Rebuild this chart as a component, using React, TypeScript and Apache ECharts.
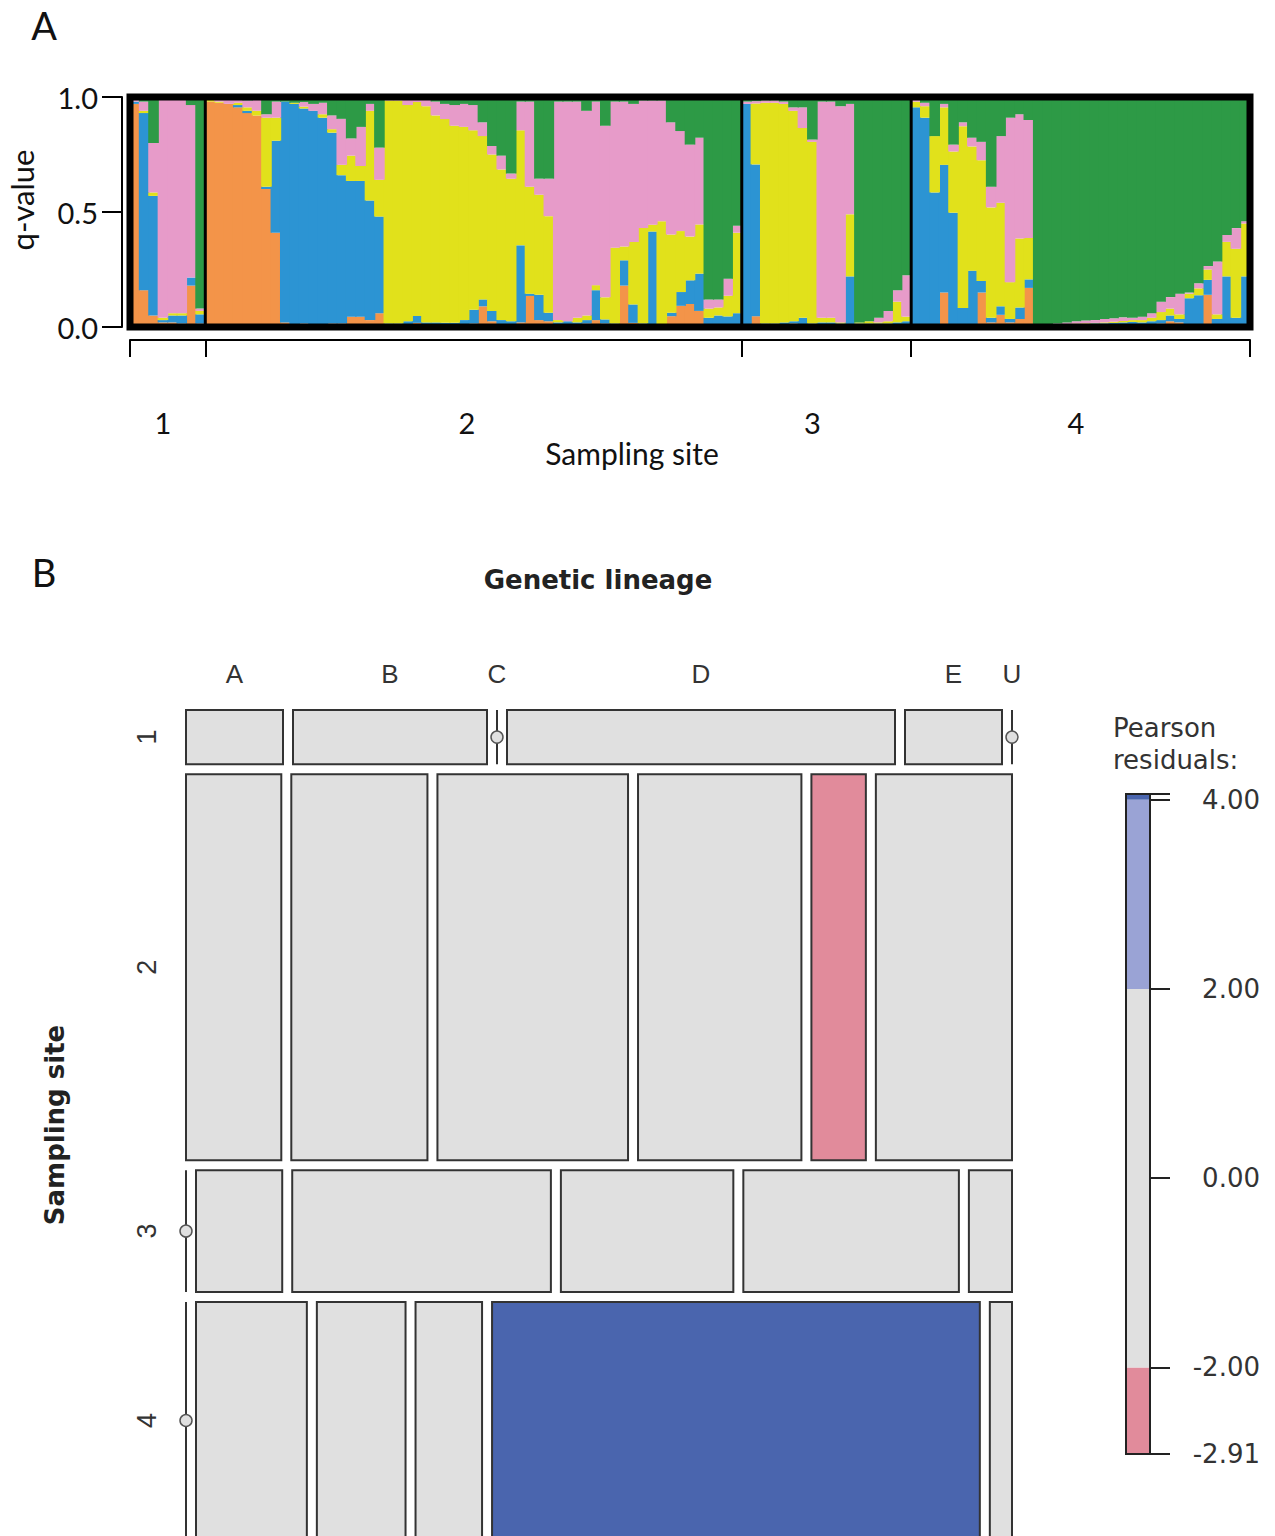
import React, { useEffect, useRef } from "react";
import * as echarts from "echarts";

// ---------- Panel A: ancestry proportions (q-values) ----------
const siteNames = ["1", "2", "3", "4"];
const siteSizes = [8, 57, 18, 36];
const siteLabelPos = [3.5, 35.8, 72.5, 100.5];
const qTickValues = [0, 0.5, 1];
const clusterNames = ["orange", "blue", "yellow", "pink", "green"];
const clusterColors = ["#F39449", "#2C94D3", "#E1E11B", "#E79BC9", "#2D9A46"];

const orangeQ = [
  0.97, 0.16, 0.05, 0.02, 0.02, 0.015, 0.18, 0.015,
  0.98, 0.975, 0.97, 0.955, 0.93, 0.92, 0.6, 0.41, 0.02, 0.01, 0.015, 0.01, 0.01, 0.015, 0.015, 0.045, 0.045, 0.03, 0.06,
  0.005, 0.005, 0.01, 0.018, 0.01, 0.01, 0.008, 0.008, 0.01, 0.015, 0.09, 0.025, 0.01, 0.01, 0.02, 0.135, 0.03, 0.025,
  0.01, 0.01, 0.01, 0.015, 0.03, 0.015, 0.01, 0.18, 0.018, 0.01, 0, 0, 0.047, 0.092, 0.1, 0.07, 0.01, 0.01, 0, 0.01,
  0.01, 0.047, 0.005, 0.005, 0.01, 0.015, 0.01, 0.005, 0.01, 0.01, 0.01, 0.01, 0.01, 0.01, 0.005, 0.005, 0.005, 0.005,
  0.005, 0.01, 0, 0.15, 0.002, 0.005, 0.005, 0.15, 0.02, 0.053, 0.02, 0.035, 0.17, 0.002, 0.002, 0.003, 0.003, 0.005,
  0.005, 0.006, 0.006, 0.008, 0.008, 0.01, 0.01, 0.01, 0.015, 0.025, 0.02, 0.005, 0.003, 0.14, 0, 0.005, 0.01, 0,
];
const blueQ = [
  0.01, 0.77, 0.52, 0.01, 0.03, 0.035, 0.035, 0.04,
  0, 0, 0, 0.01, 0.01, 0, 0.01, 0.4, 0.96, 0.96, 0.935, 0.93, 0.9, 0.83, 0.645, 0.59, 0.59, 0.52, 0.42,
  0.01, 0.01, 0.015, 0.03, 0.01, 0.01, 0.01, 0.01, 0.02, 0.06, 0.03, 0.045, 0.02, 0.015, 0.335, 0.01, 0.11, 0.037,
  0.01, 0.015, 0.01, 0.015, 0.13, 0.018, 0.005, 0.11, 0.08, 0.005, 0.415, 0.01, 0.015, 0.06, 0.103, 0.162, 0.03, 0.04, 0.046, 0.05,
  0.96, 0.66, 0.01, 0.01, 0.01, 0.01, 0.03, 0.01, 0.01, 0.01, 0.005, 0.21, 0.005, 0.005, 0.01, 0.01, 0.015, 0.02,
  0.95, 0.9, 0.585, 0.555, 0.495, 0.078, 0.24, 0.05, 0.02, 0.037, 0.015, 0.05, 0.037, 0.003, 0.004, 0.005, 0.007, 0.008,
  0.008, 0.01, 0.01, 0.01, 0.012, 0.012, 0.01, 0.015, 0.015, 0.025, 0.015, 0.12, 0.135, 0.065, 0.035, 0.215, 0.03, 0.22,
];
const yellowQ = [
  0, 0.01, 0.015, 0.01, 0.01, 0.01, 0, 0.015,
  0.01, 0.005, 0, 0.01, 0.015, 0.02, 0.3, 0.1, 0, 0.005, 0.008, 0, 0.015, 0.015, 0.045, 0.11, 0.065, 0.39, 0.16,
  0.97, 0.97, 0.94, 0.93, 0.94, 0.9, 0.886, 0.857, 0.84, 0.78, 0.71, 0.68, 0.655, 0.62, 0.5, 0.465, 0.435, 0.42,
  0.01, 0, 0.02, 0.02, 0.022, 0.096, 0.33, 0.06, 0.272, 0.415, 0.03, 0.45, 0.34, 0.265, 0.19, 0.214, 0.04, 0.035, 0.09, 0.35,
  0, 0.265, 0.96, 0.96, 0.95, 0.915, 0.825, 0.79, 0.02, 0.02, 0.005, 0.27, 0.005, 0.01, 0.005, 0.01, 0.09, 0.02,
  0.025, 0.05, 0.245, 0.25, 0.266, 0.79, 0.54, 0.525, 0.48, 0.45, 0.16, 0.3, 0.18, 0.003, 0.003, 0.002, 0.002, 0.002,
  0.003, 0.002, 0.004, 0.005, 0.006, 0.008, 0.01, 0.015, 0.035, 0.03, 0.02, 0.02, 0.03, 0.045, 0.02, 0.15, 0.3, 0.23,
];
const pinkQ = [
  0.015, 0.04, 0.215, 0.95, 0.93, 0.93, 0.75, 0.01,
  0.01, 0.01, 0.02, 0.015, 0.03, 0.05, 0.015, 0.07, 0, 0, 0.02, 0.03, 0.05, 0.06, 0.2, 0.075, 0.17, 0.03, 0.14,
  0.015, 0.01, 0.03, 0.015, 0.03, 0.06, 0.066, 0.09, 0.1, 0.11, 0.06, 0.037, 0.06, 0.022, 0.125, 0.37, 0.07, 0.163,
  0.95, 0.955, 0.94, 0.89, 0.798, 0.746, 0.635, 0.63, 0.6, 0.555, 0.54, 0.525, 0.488, 0.435, 0.4, 0.377, 0.04, 0.035, 0.074, 0.03,
  0.01, 0.01, 0.01, 0.01, 0.01, 0.015, 0.09, 0.01, 0.94, 0.94, 0.94, 0.48, 0, 0, 0.02, 0.045, 0.05, 0.18,
  0.01, 0.015, 0, 0.015, 0.03, 0.017, 0.038, 0.08, 0.09, 0.29, 0.715, 0.54, 0.513, 0.002, 0.003, 0.005, 0.008, 0.01,
  0.012, 0.012, 0.015, 0.015, 0.016, 0.01, 0.015, 0.02, 0.045, 0.05, 0.09, 0.005, 0.022, 0.015, 0.23, 0.03, 0.09, 0.01,
];
const greenQ = [
  0.005, 0.02, 0.2, 0.01, 0.01, 0.01, 0.035, 0.92,
  0, 0.01, 0.01, 0.01, 0.015, 0.01, 0.075, 0.02, 0.02, 0.025, 0.022, 0.03, 0.025, 0.08, 0.095, 0.18, 0.13, 0.03, 0.22,
  0, 0.005, 0.005, 0.007, 0.01, 0.02, 0.03, 0.035, 0.03, 0.035, 0.11, 0.213, 0.255, 0.333, 0.02, 0.02, 0.355, 0.355,
  0.02, 0.02, 0.02, 0.06, 0.02, 0.125, 0.02, 0.02, 0.03, 0.015, 0.015, 0.015, 0.11, 0.148, 0.207, 0.177, 0.88, 0.88, 0.79, 0.56,
  0.02, 0.018, 0.015, 0.015, 0.02, 0.045, 0.045, 0.185, 0.02, 0.02, 0.04, 0.03, 0.98, 0.975, 0.96, 0.93, 0.84, 0.775,
  0.01, 0.025, 0.17, 0.03, 0.207, 0.11, 0.177, 0.195, 0.39, 0.17, 0.09, 0.075, 0.1, 0.99, 0.988, 0.985, 0.98, 0.975,
  0.972, 0.97, 0.965, 0.962, 0.958, 0.96, 0.955, 0.94, 0.89, 0.87, 0.855, 0.85, 0.81, 0.735, 0.715, 0.6, 0.57, 0.54,
];

// ---------- Panel B: mosaic of sampling site x genetic lineage ----------
const lineages = ["A", "B", "C", "D", "E", "U"];
const site1Counts = [1, 2, 0, 4, 1, 0];
const site2Counts = [7, 10, 14, 12, 4, 10];
const site3Counts = [0, 2, 6, 4, 5, 1];
const site4Counts = [0, 5, 4, 3, 22, 1];

const legendCutoffs = [-2, 2, 4];
const legendLabelCutoffs = [-2, 0, 2, 4];

const DARK_BLUE = "#4A65AE";
const LIGHT_BLUE = "#9AA3D5";
const NEUTRAL = "#E0E0E0";
const LIGHT_RED = "#E18B9B";
const DARK_RED = "#CC4A62";
const legendColors = [LIGHT_RED, NEUTRAL, LIGHT_BLUE, DARK_BLUE];

const FONT_A = "Lato";
const FONT_B = "DejaVu Sans";

// full (uncropped) mosaic height in px; the figure is cut at the page bottom
const MOSAIC_TOP = 710;
const MOSAIC_FULL_HEIGHT = 829;
const PAGE_HEIGHT = 1536;

function shade(r: number) {
  if (r > 4) return DARK_BLUE;
  if (r > 2) return LIGHT_BLUE;
  if (r < -4) return DARK_RED;
  if (r < -2) return LIGHT_RED;
  return NEUTRAL;
}

function nearestLabel(positions: number[], labels: string[]) {
  return (v: number) => {
    let best = 0;
    for (let i = 1; i < positions.length; i++) {
      if (Math.abs(positions[i] - v) < Math.abs(positions[best] - v)) best = i;
    }
    return labels[best];
  };
}

function buildOption() {
  const totalInd = siteSizes.reduce((a, b) => a + b, 0);
  const siteBounds = [0];
  siteSizes.forEach((s) => siteBounds.push(siteBounds[siteBounds.length - 1] + s));
  const innerBounds = siteBounds.slice(1, -1);
  const individuals = Array.from({ length: totalInd }, (_, i) => String(i + 1));
  const qData = [orangeQ, blueQ, yellowQ, pinkQ, greenQ];
  const bandPx = 1120 / totalInd;

  // mosaic layout (data units 0..1)
  const countTable = [site1Counts, site2Counts, site3Counts, site4Counts];
  const X_GAP = 10 / 826;
  const Y_GAP = 10 / MOSAIC_FULL_HEIGHT;
  const rowTotals = countTable.map((r) => r.reduce((a, b) => a + b, 0));
  const colTotals = lineages.map((_, j) => countTable.reduce((a, r) => a + r[j], 0));
  const grand = rowTotals.reduce((a, b) => a + b, 0);
  const availH = 1 - (countTable.length - 1) * Y_GAP;
  const availW = 1 - (lineages.length - 1) * X_GAP;
  const cells: number[][] = [];
  const rowCenters: number[] = [];
  const residuals: number[] = [];
  let yCur = 0;
  countTable.forEach((row, i) => {
    const h = (rowTotals[i] / grand) * availH;
    let xCur = 0;
    row.forEach((cnt, j) => {
      const w = (cnt / rowTotals[i]) * availW;
      const exp = (rowTotals[i] * colTotals[j]) / grand;
      const res = (cnt - exp) / Math.sqrt(exp);
      residuals.push(res);
      cells.push([xCur, yCur, xCur + w, yCur + h, res, cnt]);
      xCur += w + X_GAP;
    });
    rowCenters.push(yCur + h / 2);
    yCur += h + Y_GAP;
  });
  const colLabelPos = cells.slice(0, lineages.length).map((c) => (c[0] + c[2]) / 2);
  const visibleFrac = (PAGE_HEIGHT - MOSAIC_TOP) / MOSAIC_FULL_HEIGHT;

  const legendMin = Math.min(...residuals);
  const legendMax = Math.max(...residuals);
  const legendBreaks = [legendMin, ...legendCutoffs, legendMax];
  const legendSegments = legendColors.map((_, i) => [legendBreaks[i], legendBreaks[i + 1], i]);
  const legendTickValues = [legendMin, ...legendLabelCutoffs, legendMax];
  const legendLabelValues = [legendMin, ...legendLabelCutoffs];

  const barSeries = qData.map((arr, k) => ({
    type: "bar",
    name: clusterNames[k],
    stack: "q",
    xAxisIndex: 0,
    yAxisIndex: 0,
    barWidth: bandPx + 1.2,
    silent: true,
    data: arr,
    itemStyle: { color: clusterColors[k] },
  }));

  return {
    animation: false,
    backgroundColor: "#ffffff",
    textStyle: { fontFamily: FONT_B },
    grid: [
      { left: 130, top: 97, width: 1120, height: 230 },
      { left: 186, top: MOSAIC_TOP, width: 826, height: PAGE_HEIGHT - MOSAIC_TOP },
      { left: 1126, top: 794, width: 24, height: 660 },
    ],
    xAxis: [
      { type: "category", gridIndex: 0, data: individuals, show: false, position: "bottom", boundaryGap: true },
      {
        type: "value",
        gridIndex: 0,
        min: 0,
        max: totalInd,
        position: "bottom",
        offset: 13,
        axisLine: { show: true, onZero: false, lineStyle: { color: "#000", width: 2 } },
        axisTick: { show: true, customValues: siteBounds, length: 17, lineStyle: { color: "#000", width: 2 } },
        axisLabel: {
          customValues: siteLabelPos,
          formatter: nearestLabel(siteLabelPos, siteNames),
          margin: 68,
          fontSize: 29,
          color: "#111",
          fontFamily: FONT_A,
        },
        splitLine: { show: false },
      },
      { type: "value", gridIndex: 1, min: 0, max: 1, position: "top",
        axisLine: { show: false }, axisTick: { show: false }, splitLine: { show: false },
        axisLabel: {
          customValues: colLabelPos,
          formatter: nearestLabel(colLabelPos, lineages),
          margin: 23,
          fontSize: 26,
          color: "#333",
          fontFamily: "Liberation Sans",
        },
      },
      { type: "value", gridIndex: 2, min: 0, max: 1, show: false },
    ],
    yAxis: [
      {
        type: "value",
        gridIndex: 0,
        min: 0,
        max: 1,
        interval: 0.5,
        offset: 8,
        axisLine: { show: true, onZero: false, lineStyle: { color: "#000", width: 2 } },
        axisTick: { show: true, length: 20, lineStyle: { color: "#000", width: 2 } },
        axisLabel: {
          customValues: qTickValues,
          formatter: (v: number) => v.toFixed(1),
          fontSize: 29,
          margin: 24,
          color: "#111",
          fontFamily: FONT_A,
        },
        splitLine: { show: false },
      },
      { type: "value", gridIndex: 1, min: 0, max: visibleFrac, inverse: true, position: "left",
        axisLine: { show: false }, axisTick: { show: false }, splitLine: { show: false },
        axisLabel: {
          customValues: rowCenters,
          formatter: nearestLabel(rowCenters, siteNames),
          rotate: 90,
          margin: 26,
          fontSize: 27,
          color: "#333",
          fontFamily: "Liberation Sans",
        },
      },
      {
        type: "value",
        gridIndex: 2,
        min: legendMin,
        max: legendMax,
        position: "right",
        axisLine: { show: true, onZero: false, lineStyle: { color: "#222", width: 2 } },
        axisTick: { show: true, customValues: legendTickValues, length: 20, lineStyle: { color: "#222", width: 2 } },
        axisLabel: {
          customValues: legendLabelValues,
          formatter: (v: number) => v.toFixed(2),
          align: "right",
          margin: 110,
          fontSize: 26,
          color: "#333",
          fontFamily: FONT_B,
        },
        splitLine: { show: false },
      },
    ],
    series: [
      ...barSeries,
      {
        type: "custom",
        name: "site separators",
        xAxisIndex: 1,
        yAxisIndex: 0,
        z: 10,
        silent: true,
        data: innerBounds.map((b) => [b]),
        renderItem: (params: any, api: any) => {
          const a = api.coord([api.value(0), 1]);
          const b = api.coord([api.value(0), 0]);
          return { type: "line", shape: { x1: a[0], y1: a[1], x2: b[0], y2: b[1] }, style: { stroke: "#000", lineWidth: 3 } };
        },
      },
      {
        type: "custom",
        name: "frame",
        xAxisIndex: 1,
        yAxisIndex: 0,
        z: 11,
        silent: true,
        data: [[0, totalInd]],
        renderItem: (params: any, api: any) => {
          const a = api.coord([api.value(0), 1]);
          const b = api.coord([api.value(1), 0]);
          return { type: "rect", shape: { x: a[0], y: a[1], width: b[0] - a[0], height: b[1] - a[1] }, style: { fill: "none", stroke: "#000", lineWidth: 7 } };
        },
      },
      {
        type: "custom",
        name: "mosaic",
        xAxisIndex: 2,
        yAxisIndex: 1,
        silent: true,
        clip: false,
        data: cells,
        renderItem: (params: any, api: any) => {
          const p0 = api.coord([api.value(0), api.value(1)]);
          const p1 = api.coord([api.value(2), api.value(3)]);
          const res = api.value(4);
          const cnt = api.value(5);
          if (cnt === 0) {
            return {
              type: "group",
              children: [
                { type: "line", shape: { x1: p0[0], y1: p0[1], x2: p0[0], y2: p1[1] }, style: { stroke: "#333", lineWidth: 2 } },
                { type: "circle", shape: { cx: p0[0], cy: (p0[1] + p1[1]) / 2, r: 6 }, style: { fill: "#E0E0E0", stroke: "#555", lineWidth: 1.5 } },
              ],
            };
          }
          return {
            type: "rect",
            shape: { x: p0[0], y: p0[1], width: p1[0] - p0[0], height: p1[1] - p0[1] },
            style: { fill: shade(res), stroke: "#333", lineWidth: 2 },
          };
        },
      },
      {
        type: "custom",
        name: "legend bands",
        xAxisIndex: 3,
        yAxisIndex: 2,
        silent: true,
        data: legendSegments,
        renderItem: (params: any, api: any) => {
          const a = api.coord([0, api.value(1)]);
          const b = api.coord([1, api.value(0)]);
          return { type: "rect", shape: { x: a[0], y: a[1], width: b[0] - a[0], height: b[1] - a[1] }, style: { fill: legendColors[api.value(2)] } };
        },
      },
      {
        type: "custom",
        name: "legend frame",
        xAxisIndex: 3,
        yAxisIndex: 2,
        silent: true,
        z: 5,
        data: [[legendMin, legendMax]],
        renderItem: (params: any, api: any) => {
          const a = api.coord([0, api.value(1)]);
          const b = api.coord([1, api.value(0)]);
          return { type: "rect", shape: { x: a[0], y: a[1], width: b[0] - a[0], height: b[1] - a[1] }, style: { fill: "none", stroke: "#222", lineWidth: 2 } };
        },
      },
    ],
    graphic: {
      elements: [
        { type: "text", x: 44, y: 25, style: { text: "A", font: `38px ${FONT_A}`, fill: "#111", align: "center", verticalAlign: "middle" } },
        { type: "text", x: 22, y: 200, rotation: Math.PI / 2, style: { text: "q-value", font: `31px ${FONT_A}`, fill: "#111", align: "center", verticalAlign: "middle" } },
        { type: "text", x: 632, y: 453, style: { text: "Sampling site", font: `30px ${FONT_A}`, fill: "#111", align: "center", verticalAlign: "middle" } },
        { type: "text", x: 44, y: 572, style: { text: "B", font: `38px ${FONT_A}`, fill: "#111", align: "center", verticalAlign: "middle" } },
        { type: "text", x: 598, y: 580, style: { text: "Genetic lineage", font: `bold 26px ${FONT_B}`, fill: "#222", align: "center", verticalAlign: "middle" } },
        { type: "text", x: 55, y: 1125, rotation: Math.PI / 2, style: { text: "Sampling site", font: `bold 26px ${FONT_B}`, fill: "#222", align: "center", verticalAlign: "middle" } },
        { type: "text", x: 1113, y: 728, style: { text: "Pearson", font: `26px ${FONT_B}`, fill: "#333", align: "left", verticalAlign: "middle" } },
        { type: "text", x: 1113, y: 760, style: { text: "residuals:", font: `26px ${FONT_B}`, fill: "#333", align: "left", verticalAlign: "middle" } },
      ],
    },
  };
}

export default function App() {
  const ref = useRef<HTMLDivElement>(null);
  useEffect(() => {
    const chart = echarts.init(ref.current!, null, { renderer: "svg" });
    chart.setOption(buildOption() as any);
    return () => chart.dispose();
  }, []);
  return (
    <div
      ref={ref}
      style={{ position: "absolute", left: 0, top: 0, width: 1275, height: 1536, background: "#fff" }}
    />
  );
}
